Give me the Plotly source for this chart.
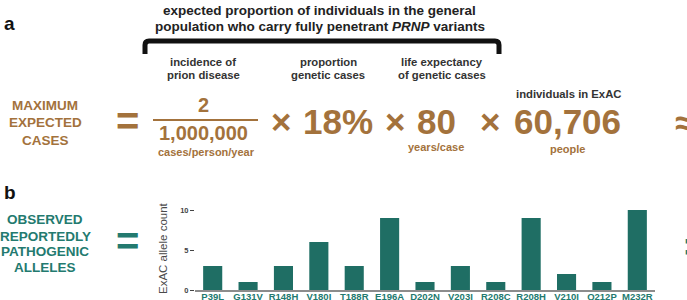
import plotly.graph_objects as go

W, H = 687, 300

variants = ["P39L", "G131V", "R148H", "V180I", "T188R", "E196A", "D202N",
            "V203I", "R208C", "R208H", "V210I", "Q212P", "M232R"]
allele_counts = [3, 1, 3, 6, 3, 9, 1, 3, 1, 9, 2, 1, 10]
y_ticks = [0, 5, 10]

BROWN = "#a3723c"
TEAL = "#1f6e64"
TEAL_TXT = "#237a6f"
DARK = "#222222"
FONT = "Liberation Sans, Arial, sans-serif"

fig = go.Figure()
fig.add_trace(go.Bar(x=variants, y=allele_counts, marker_color=TEAL,
                     marker_line_width=0, xaxis="x", yaxis="y"))

def px(x):
    return x / W

def py(y):
    return 1 - y / H

ann = []

def text(t, x, y, size, color, bold=True, xanchor="center", angle=0):
    ann.append(dict(text=t, x=px(x), y=py(y), xref="paper", yref="paper",
                    xanchor=xanchor, yanchor="middle", showarrow=False,
                    textangle=angle,
                    font=dict(family=FONT, size=size, color=color,
                              weight="bold" if bold else "normal")))

# panel labels
text("a", 2, 24, 19, "#111", xanchor="left")
text("b", 2, 192, 19, "#111", xanchor="left")

# header
text("expected proportion of individuals in the general", 319, 11, 13.5, DARK)
text("population who carry fully penetrant <i>PRNP</i> variants", 320, 27, 13.5, DARK)

# sub headers
text("incidence of", 203, 62, 11.3, "#333")
text("prion disease", 203, 75, 11.3, "#333")
text("proportion", 328, 62, 11.3, "#333")
text("genetic cases", 328, 75, 11.3, "#333")
text("life expectancy", 442, 62, 11.3, "#333")
text("of genetic cases", 442, 75, 11.3, "#333")
text("individuals in ExAC", 568, 94, 11.3, "#333")

# left label a
text("MAXIMUM", 45, 105, 13.5, BROWN)
text("EXPECTED", 45, 122, 13.5, BROWN)
text("CASES", 45, 140, 13.5, BROWN)
text("=", 127, 121, 40, BROWN)

# equation
text("2", 203, 105, 20, BROWN)
text("1,000,000", 203, 133, 20, BROWN)
text("cases/person/year", 206, 152, 11, BROWN)
text("×", 281, 121, 35, BROWN)
text("18%", 338, 121, 35, BROWN)
text("×", 395, 121, 35, BROWN)
text("80", 436, 121, 35, BROWN)
text("years/case", 436, 147, 11, BROWN)
text("×", 490, 121, 35, BROWN)
text("60,706", 567, 121, 35, BROWN)
text("people", 567, 149, 11, BROWN)
text("≈", 673, 122, 35, BROWN, xanchor="left")

# left label b
text("OBSERVED", 45, 220, 13.5, TEAL_TXT)
text("REPORTEDLY", 45, 236, 13.5, TEAL_TXT)
text("PATHOGENIC", 45, 251, 13.5, TEAL_TXT)
text("ALLELES", 45, 267, 13.5, TEAL_TXT)
text("=", 127, 241, 40, TEAL_TXT)
text("=", 682, 247, 40, TEAL_TXT, xanchor="left")

# y axis title
text("ExAC allele count", 163, 248, 11.5, "#4a4a4a", bold=False, angle=-90)

shapes = [
    # bracket
    dict(type="path", xref="x2", yref="y2",
         path="M145,54 L145,45 Q145,41 149,41 L495,41 Q499,41 499,45 L499,54",
         line=dict(color="#111", width=5)),
    # fraction bar
    dict(type="line", xref="x2", yref="y2", x0=153, x1=258, y0=120, y1=120,
         line=dict(color=BROWN, width=2.2)),
]

fig.update_layout(
    width=W, height=H,
    margin=dict(l=0, r=0, t=0, b=0),
    paper_bgcolor="white", plot_bgcolor="rgba(0,0,0,0)",
    showlegend=False,
    bargap=0.46,
    annotations=ann,
    shapes=shapes,
    xaxis=dict(domain=[195 / W, 655 / W], range=[-0.5, 12.5], anchor="y",
               showline=True, linecolor="#8c8c8c", linewidth=1.5,
               ticks="", showgrid=False, zeroline=False, automargin=False,
               ticklabelstandoff=-3,
               tickfont=dict(family=FONT, size=9.5, color=TEAL_TXT, weight="bold")),
    yaxis=dict(domain=[10 / H, 94 / H], range=[0, 10.5], anchor="x",
               tickvals=y_ticks, ticktext=[str(v) for v in y_ticks],
               ticks="outside", ticklen=4, tickcolor="#444", tickwidth=1,
               showgrid=False, zeroline=False, showline=False, automargin=False,
               tickfont=dict(family=FONT, size=7.5, color="#444", weight="bold")),
    xaxis2=dict(domain=[0, 1], range=[0, W], visible=False, anchor="y2", fixedrange=True),
    yaxis2=dict(domain=[0, 1], range=[H, 0], visible=False, anchor="x2", fixedrange=True),
)

fig.write_html("out.html")
